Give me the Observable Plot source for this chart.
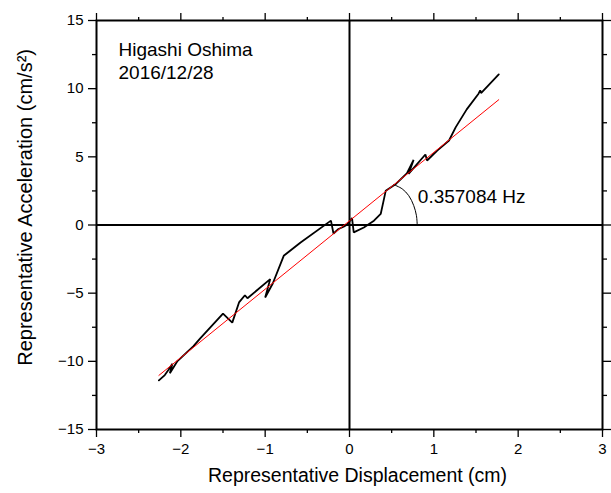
<!DOCTYPE html>
<html><head><meta charset="utf-8">
<script src="https://cdn.jsdelivr.net/npm/d3@7"></script>
<script src="https://cdn.jsdelivr.net/npm/@observablehq/plot@0.6"></script>
<style>body{margin:0;background:#fff}</style>
</head><body><div id="chart"></div>
<script>
// Representative displacement (cm) / acceleration (cm/s^2) trace
const curveDisp = [-2.26, -2.19, -2.15, -2.10, -2.13, -2.04, -1.85, -1.77, -1.50, -1.39, -1.31, -1.24, -1.21, -0.94, -1.00, -0.91, -0.78, -0.58, -0.22, -0.19, -0.13, -0.07, -0.03, 0.03, 0.05, 0.17, 0.29, 0.37, 0.40, 0.43, 0.55, 0.68, 0.76, 0.70, 0.90, 0.92, 1.04, 1.18, 1.26, 1.39, 1.53, 1.55, 1.56, 1.77];
const curveAcc = [-11.40, -11.01, -10.66, -10.18, -10.88, -9.98, -8.88, -8.31, -6.50, -7.16, -5.68, -5.15, -5.37, -3.97, -5.32, -4.29, -2.26, -1.28, 0.32, -0.62, -0.29, -0.13, 0.02, 0.51, -0.54, -0.18, 0.32, 0.81, 1.66, 2.52, 3.01, 3.79, 4.78, 3.75, 5.17, 4.73, 5.46, 6.20, 7.18, 8.48, 9.63, 9.88, 9.68, 11.05];
// fitted line (red)
const fitDisp = [-2.26, 1.77];
const fitAcc = [-11.03, 9.19];
// angle arc
const arcDisp = [0.525, 0.625, 0.703, 0.762, 0.794, 0.803];
const arcAcc = [2.96, 2.65, 2.15, 1.42, 0.68, 0.0];
// ticks
const xMajor = [-3, -2, -1, 0, 1, 2, 3];
const xMinor = [-2.5, -1.5, -0.5, 0.5, 1.5, 2.5];
const yMajor = [-15, -10, -5, 0, 5, 10, 15];
const yMinor = [-12.5, -7.5, -2.5, 2.5, 7.5, 12.5];
// texts
const siteLines = ["Higashi Oshima", "2016/12/28"];
const freqLabel = "0.357084 Hz";
const xLabel = "Representative Displacement (cm)";
const yLabel = "Representative Acceleration (cm/s²)";

const curve = curveDisp.map((d, i) => ({disp: d, acc: curveAcc[i]}));
const fit = fitDisp.map((d, i) => ({disp: d, acc: fitAcc[i]}));
const arc = arcDisp.map((d, i) => ({disp: d, acc: arcAcc[i]}));

const fmt = d3.format("d");
const tk = {strokeWidth: 1.3, label: null};

const chart = Plot.plot({
  width: 611,
  height: 493,
  marginLeft: 96,
  marginRight: 9,
  marginTop: 20,
  marginBottom: 64,
  style: {fontFamily: "'Liberation Sans', Arial, sans-serif", color: "black", background: "white"},
  x: {domain: [-3, 3], label: null},
  y: {domain: [-15, 15], label: null},
  marks: [
    Plot.axisX({...tk, ticks: xMajor, anchor: "bottom", tickSize: 8, tickPadding: 6, fontSize: 15, tickFormat: fmt}),
    Plot.axisX({...tk, ticks: xMinor, anchor: "bottom", tickSize: 4, tickFormat: () => ""}),
    Plot.axisX({...tk, ticks: xMajor, anchor: "top", tickSize: 8, tickFormat: () => ""}),
    Plot.axisX({...tk, ticks: xMinor, anchor: "top", tickSize: 4, tickFormat: () => ""}),
    Plot.axisY({...tk, ticks: yMajor, anchor: "left", tickSize: 8, tickPadding: 5, fontSize: 15, tickFormat: fmt}),
    Plot.axisY({...tk, ticks: yMinor, anchor: "left", tickSize: 4, tickFormat: () => ""}),
    Plot.axisY({...tk, ticks: yMajor, anchor: "right", tickSize: 8, tickFormat: () => ""}),
    Plot.axisY({...tk, ticks: yMinor, anchor: "right", tickSize: 4, tickFormat: () => ""}),
    Plot.ruleX([0], {stroke: "black", strokeWidth: 2}),
    Plot.ruleY([0], {stroke: "black", strokeWidth: 2}),
    Plot.line(arc, {x: "disp", y: "acc", stroke: "black", strokeWidth: 1, curve: "catmull-rom"}),
    Plot.line(curve, {x: "disp", y: "acc", stroke: "black", strokeWidth: 1.8, strokeLinejoin: "miter"}),
    Plot.line(fit, {x: "disp", y: "acc", stroke: "#ff0000", strokeWidth: 1}),
    Plot.frame({stroke: "black", strokeWidth: 2}),
    Plot.text([freqLabel], {x: 0.81, y: 2.08, text: d => d, textAnchor: "start", fontSize: 19, fill: "black"}),
    Plot.text([siteLines.join("\n")], {frameAnchor: "top-left", dx: 22, dy: 19, text: d => d, textAnchor: "start", lineAnchor: "top", lineHeight: 1.21, fontSize: 19, fill: "black"}),
    Plot.text([xLabel], {frameAnchor: "bottom", dx: 8, dy: 52, text: d => d, fontSize: 19.5, fill: "black"}),
    Plot.text([yLabel], {x: -3.84, y: 1.29, rotate: -90, text: d => d, fontSize: 20, fill: "black"})
  ]
});
document.getElementById("chart").append(chart);
</script></body></html>
